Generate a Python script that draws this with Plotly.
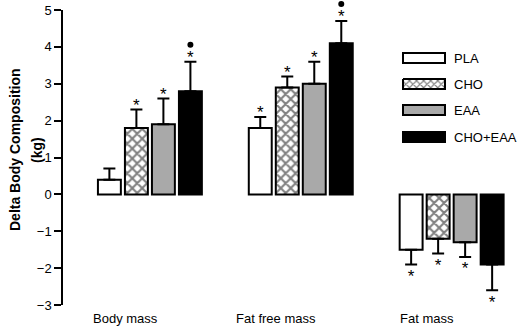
import plotly.graph_objects as go

groups = ["Body mass", "Fat free mass", "Fat mass"]
conditions = ["PLA", "CHO", "EAA", "CHO+EAA"]
values = {
    "PLA": [0.4, 1.8, -1.5],
    "CHO": [1.8, 2.9, -1.2],
    "EAA": [1.9, 3.0, -1.3],
    "CHO+EAA": [2.8, 4.1, -1.9],
}
errors = {
    "PLA": [0.3, 0.3, 0.4],
    "CHO": [0.5, 0.3, 0.4],
    "EAA": [0.7, 0.6, 0.4],
    "CHO+EAA": [0.8, 0.6, 0.7],
}
# significance markers: "*" vs baseline, "•" vs other groups
stars = {
    "PLA": [False, True, True],
    "CHO": [True, True, True],
    "EAA": [True, True, True],
    "CHO+EAA": [True, True, True],
}
dots = {
    "PLA": [False, False, False],
    "CHO": [False, False, False],
    "EAA": [False, False, False],
    "CHO+EAA": [True, True, False],
}
yticks = [-3, -2, -1, 0, 1, 2, 3, 4, 5]

styles = {
    "PLA": dict(color="white", pattern=None),
    "CHO": dict(color="white", pattern=dict(shape="x", fgcolor="black", bgcolor="white", size=7, solidity=0.5)),
    "EAA": dict(color="#a9a9a9", pattern=None),
    "CHO+EAA": dict(color="black", pattern=None),
}

XR = [-0.576, 2.42]
YR = [-3, 5]
PLOT_H = 295
PX = PLOT_H / (YR[1] - YR[0])  # pixels per y unit
pitch = 0.179
bw = 0.152
fig = go.Figure()
annotations = []
shapes = []
star_x, star_y = [], []
for i, c in enumerate(conditions):
    off = (i - 1.5) * pitch
    xs = [g + off for g in range(len(groups))]
    vals = values[c]
    errs = errors[c]
    plus = [e if v >= 0 else 0 for v, e in zip(vals, errs)]
    minus = [e if v < 0 else 0 for v, e in zip(vals, errs)]
    marker = dict(color=styles[c]["color"], line=dict(color="black", width=2))
    if styles[c]["pattern"]:
        marker["pattern"] = styles[c]["pattern"]
    fig.add_trace(go.Bar(
        x=xs, y=vals, width=bw, name=c, marker=marker, showlegend=False,
        error_y=dict(type="data", symmetric=False, array=plus, arrayminus=minus,
                     color="black", thickness=2, width=6),
    ))
    for x, v, e, s, d in zip(xs, vals, errs, stars[c], dots[c]):
        end = v + e if v >= 0 else v - e
        if s:
            star_x.append(x)
            star_y.append(end + (3 / PX if v >= 0 else -13 / PX))
        if d:
            px_ = (x - XR[0]) / (XR[1] - XR[0])
            py_ = (end - YR[0]) / (YR[1] - YR[0]) + 17 / PLOT_H
            shapes.append(dict(type="circle", xref="paper", yref="paper",
                               xsizemode="pixel", ysizemode="pixel", xanchor=px_, yanchor=py_,
                               x0=-3, x1=3, y0=-3, y1=3, fillcolor="black", line=dict(width=0)))

fig.add_trace(go.Scatter(x=star_x, y=star_y, mode="text", text=["*"] * len(star_x),
                         textposition="middle center", cliponaxis=False, showlegend=False,
                         textfont=dict(size=17, color="black", family="Liberation Sans"),
                         hoverinfo="skip"))

# group labels
for g, name in enumerate(groups):
    annotations.append(dict(x=g - 0.165, y=-0.047, xref="x", yref="paper", text=name,
                            showarrow=False, yanchor="middle",
                            font=dict(size=13, color="black", family="Liberation Sans")))

# y-axis title (two lines)
for txt, xp in [("<b>Delta Body Composition</b>", 15), ("<b>(kg)</b>", 37)]:
    annotations.append(dict(x=(xp - 63) / 452, y=(305 - 150) / 295, xref="paper", yref="paper",
                            text=txt, textangle=-90, showarrow=False, xanchor="center", yanchor="middle",
                            font=dict(size=14, color="black", family="Liberation Sans")))

# legend drawn manually
leg_y = [58, 84, 110, 137]
for c, yy in zip(conditions, leg_y):
    st = styles[c]
    y0 = 1 - (yy - 5 - 10) / 295
    y1 = 1 - (yy + 5 - 10) / 295
    x0 = (403 - 63) / 452
    x1 = (445 - 63) / 452
    if c == "CHO":
        fig.add_trace(go.Scatter(x=[x0, x1, x1, x0, x0], y=[y0, y0, y1, y1, y0], xaxis="x2", yaxis="y2",
                                 mode="lines", fill="toself", fillcolor="white",
                                 fillpattern=dict(shape="x", fgcolor="black", bgcolor="white", size=5, solidity=0.4),
                                 line=dict(color="black", width=2), showlegend=False, hoverinfo="skip"))
    else:
        shapes.append(dict(type="rect", xref="paper", yref="paper", x0=x0, x1=x1, y0=y0, y1=y1,
                           fillcolor=st["color"], line=dict(color="black", width=2)))
    annotations.append(dict(x=(452 - 63) / 452, y=(y0 + y1) / 2, xref="paper", yref="paper", text=c,
                            xanchor="left", yanchor="middle", showarrow=False,
                            font=dict(size=13, color="black", family="Liberation Sans")))

fig.update_layout(
    width=518, height=335,
    margin=dict(l=63, r=3, t=10, b=30),
    plot_bgcolor="white", paper_bgcolor="white",
    barmode="overlay",
    xaxis=dict(range=XR, visible=False),
    yaxis=dict(range=YR, tickvals=yticks, ticks="outside", ticklen=7, tickwidth=1.5,
               tickcolor="black", showline=True, linecolor="black", linewidth=1.5,
               showgrid=False, zeroline=False,
               tickfont=dict(size=13, color="black", family="Liberation Sans")),
    xaxis2=dict(range=[0, 1], domain=[0, 1], visible=False, fixedrange=True, overlaying="x"),
    yaxis2=dict(range=[0, 1], domain=[0, 1], visible=False, fixedrange=True, overlaying="y"),
    shapes=shapes,
    annotations=annotations,
    showlegend=False,
)

fig.write_html("out.html")
